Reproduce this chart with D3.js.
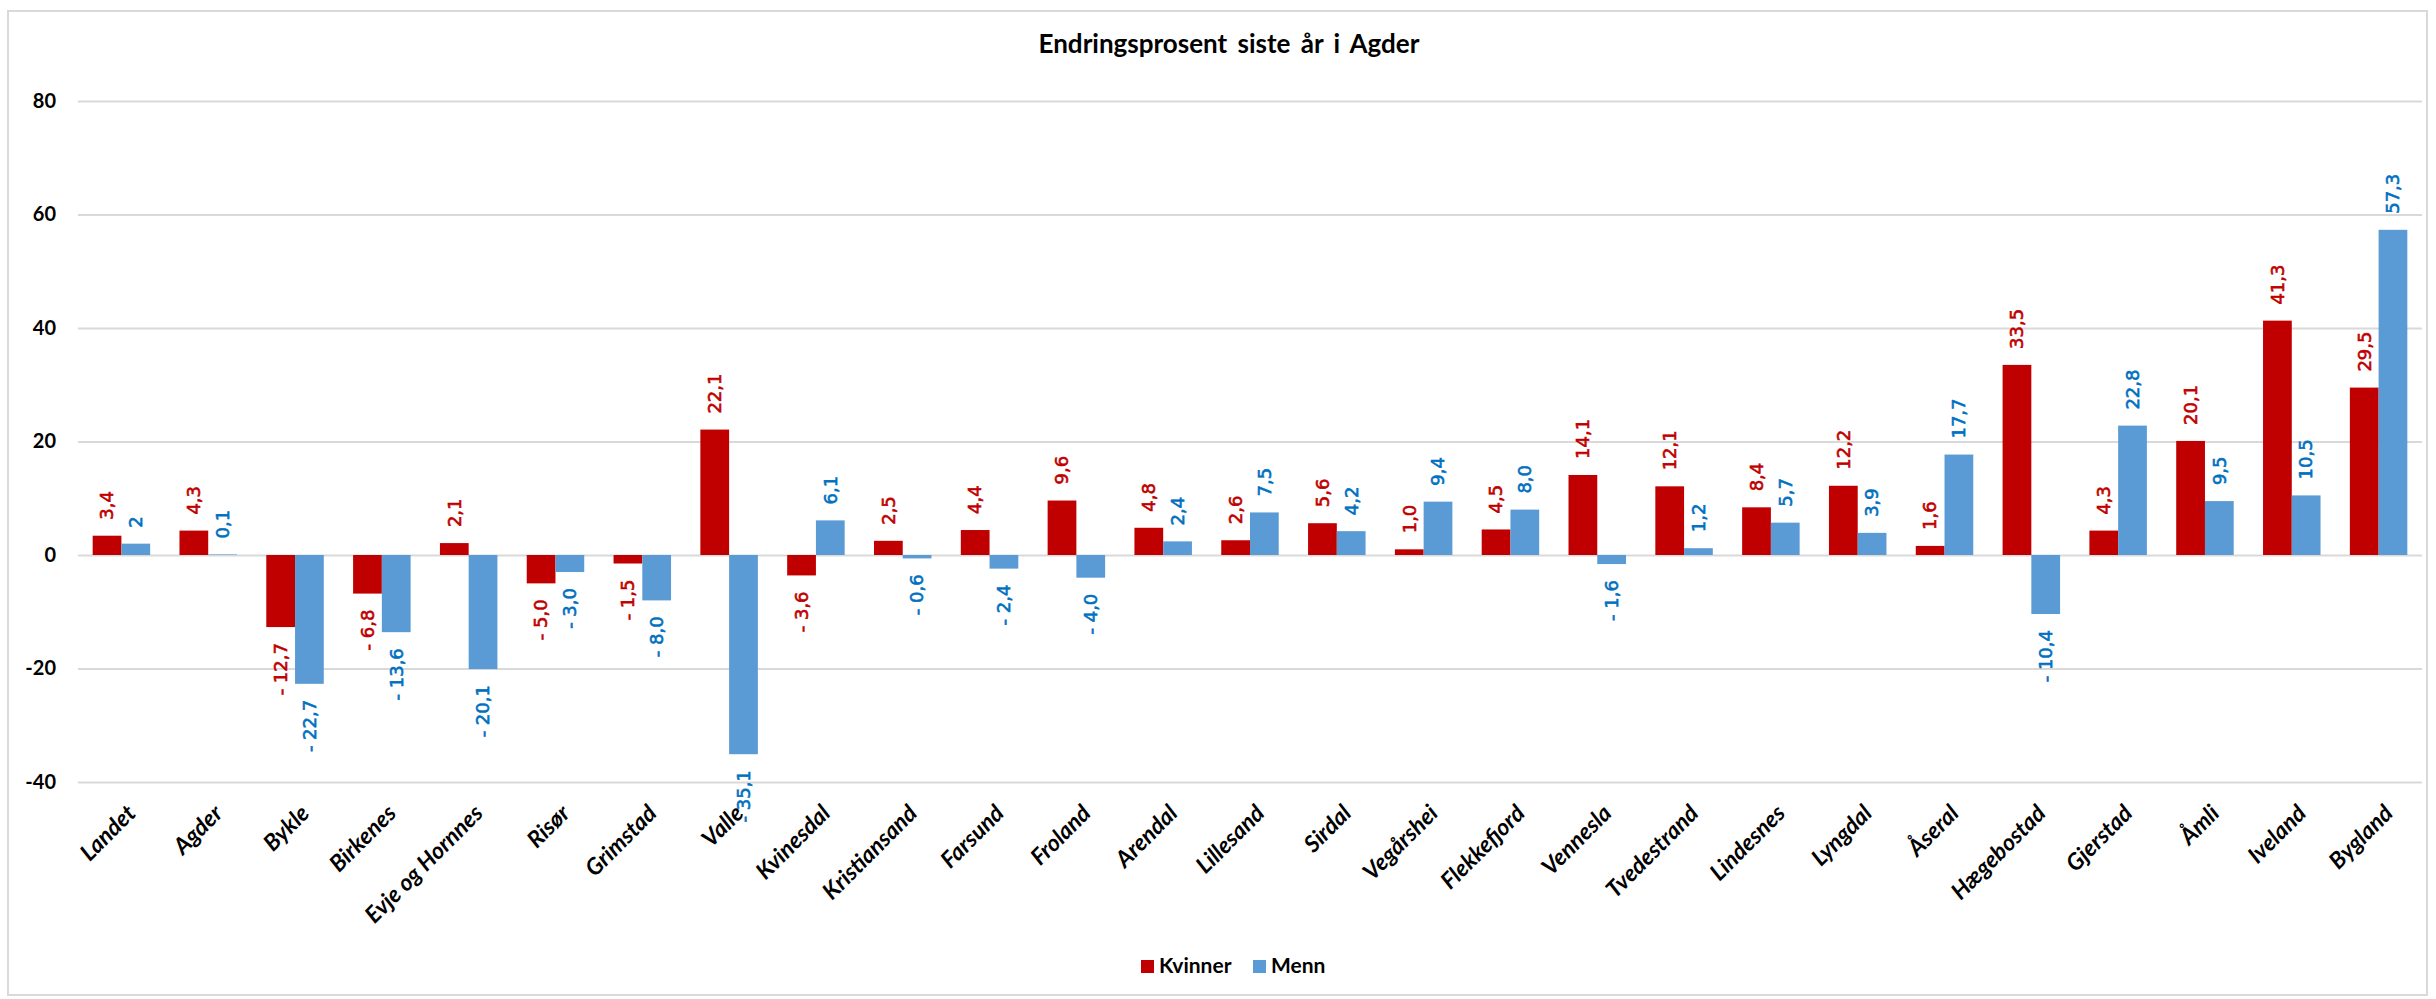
<!DOCTYPE html>
<meta charset="utf-8">
<script src="https://d3js.org/d3.v7.js"></script>
<style>
  body { margin: 0; background: #fff; }
  svg text { font-family: Lato, "Liberation Sans", sans-serif; }
</style>
<div id="chart"></div>

<script>

var kommuner = ["Landet", "Agder", "Bykle", "Birkenes", "Evje og Hornnes", "Risør",
  "Grimstad", "Valle", "Kvinesdal", "Kristiansand", "Farsund", "Froland", "Arendal",
  "Lillesand", "Sirdal", "Vegårshei", "Flekkefjord", "Vennesla", "Tvedestrand",
  "Lindesnes", "Lyngdal", "Åseral", "Hægebostad", "Gjerstad", "Åmli", "Iveland", "Bygland"];

var kvinner = [3.4, 4.3, -12.7, -6.8, 2.1, -5.0, -1.5, 22.1, -3.6, 2.5, 4.4, 9.6, 4.8,
  2.6, 5.6, 1.0, 4.5, 14.1, 12.1, 8.4, 12.2, 1.6, 33.5, 4.3, 20.1, 41.3, 29.5];

var menn = [2, 0.1, -22.7, -13.6, -20.1, -3.0, -8.0, -35.1, 6.1, -0.6, -2.4, -4.0, 2.4,
  7.5, 4.2, 9.4, 8.0, -1.6, 1.2, 5.7, 3.9, 17.7, -10.4, 22.8, 9.5, 10.5, 57.3];

var serier = ["Kvinner", "Menn"];
var yTicks = [-40, -20, 0, 20, 40, 60, 80];
var tittel = "Endringsprosent siste år i Agder";

// Landet/Menn is shown without a decimal in the original
var etikettUnntak = {"Landet|Menn": "2"};

var barFarge = {Kvinner: "#C00000", Menn: "#5B9BD5"};
var tekstFarge = {Kvinner: "#C00000", Menn: "#0070C0"};

var width = 2436, height = 999;
var plot = {left: 78, right: 2422, top: 101, bottom: 782};

var rader = kommuner.map(function(k, i) {
  return {kommune: k, Kvinner: kvinner[i], Menn: menn[i]};
});

var svg = d3.select("#chart")
  .append("svg")
    .attr("width", width)
    .attr("height", height);

svg.append("rect")
  .attr("x", 8).attr("y", 11)
  .attr("width", 2419).attr("height", 984)
  .attr("fill", "#fff")
  .attr("stroke", "#d9d9d9")
  .attr("stroke-width", 2);

var x = d3.scaleBand()
  .domain(kommuner)
  .range([plot.left, plot.right]);

var x1 = d3.scaleBand()
  .domain(serier)
  .range([0, x.bandwidth()])
  .paddingOuter(0.51);

var y = d3.scaleLinear()
  .domain([-40, 80])
  .range([plot.bottom, plot.top]);

// gridlines + y labels
var yAxis = svg.append("g")
  .attr("transform", "translate(" + plot.left + ",0)")
  .call(d3.axisLeft(y)
    .tickValues(yTicks)
    .tickSize(-(plot.right - plot.left))
    .tickPadding(22)
    .tickFormat(function(d) { return String(d); }));
yAxis.select(".domain").remove();
yAxis.selectAll(".tick line")
  .attr("stroke", "#d9d9d9")
  .attr("stroke-width", 2);
yAxis.selectAll(".tick text")
  .attr("fill", "#000")
  .style("font-size", "20px")
  .style("font-weight", "bold");

// bars
var grupper = svg.selectAll("g.gruppe")
  .data(rader)
  .enter()
  .append("g")
    .attr("class", "gruppe")
    .attr("transform", function(d) { return "translate(" + x(d.kommune) + ",0)"; });

var celler = grupper.selectAll("g.celle")
  .data(function(d) {
    return serier.map(function(s) { return {kommune: d.kommune, serie: s, value: d[s]}; });
  })
  .enter()
  .append("g")
    .attr("class", "celle");

celler.append("rect")
  .attr("x", function(d) { return x1(d.serie); })
  .attr("y", function(d) { return y(Math.max(0, d.value)); })
  .attr("width", x1.bandwidth())
  .attr("height", function(d) { return Math.abs(y(d.value) - y(0)); })
  .attr("fill", function(d) { return barFarge[d.serie]; });

function etikett(d) {
  var key = d.kommune + "|" + d.serie;
  if (etikettUnntak[key]) return etikettUnntak[key];
  var s = Math.abs(d.value).toFixed(1).replace(".", ",");
  return d.value < 0 ? "- " + s : s;
}

celler.append("text")
  .attr("transform", function(d) {
    var cx = x1(d.serie) + x1.bandwidth() / 2;
    var cy = d.value < 0 ? y(d.value) + 16 : y(d.value) - 16;
    return "translate(" + cx + "," + cy + ") rotate(-90)";
  })
  .attr("dy", "0.35em")
  .attr("text-anchor", function(d) { return d.value < 0 ? "end" : "start"; })
  .attr("fill", function(d) { return tekstFarge[d.serie]; })
  .attr("stroke", function(d) { return tekstFarge[d.serie]; })
  .attr("stroke-width", 0.6)
  .style("font-family", "'DejaVu Sans', sans-serif")
  .style("font-size", "18px")
  .text(etikett);

// category labels
svg.append("g")
  .selectAll("text")
  .data(kommuner)
  .enter()
  .append("text")
    .attr("transform", function(d) {
      return "translate(" + (x(d) + x.bandwidth() / 2 + 4) + ",803) rotate(-45)";
    })
    .attr("dy", "0.72em")
    .attr("text-anchor", "end")
    .style("font-size", "23px")
    .style("font-weight", "bold")
    .style("font-style", "italic")
    .text(function(d) { return d; });

// title
svg.append("text")
  .attr("x", 1229)
  .attr("y", 53)
  .attr("text-anchor", "middle")
  .style("font-size", "26px")
  .style("font-weight", "bold")
  .style("word-spacing", "4px")
  .text(tittel);

// legend
var legende = svg.append("g")
  .selectAll("g")
  .data(serier)
  .enter()
  .append("g")
    .attr("transform", function(d, i) { return "translate(" + [1141, 1253][i] + ",960)"; });

legende.append("rect")
  .attr("width", 13)
  .attr("height", 13)
  .attr("fill", function(d) { return barFarge[d]; });

legende.append("text")
  .attr("x", 18)
  .attr("y", 13)
  .style("font-size", "21px")
  .style("font-weight", "bold")
  .text(function(d) { return d; });

</script>
